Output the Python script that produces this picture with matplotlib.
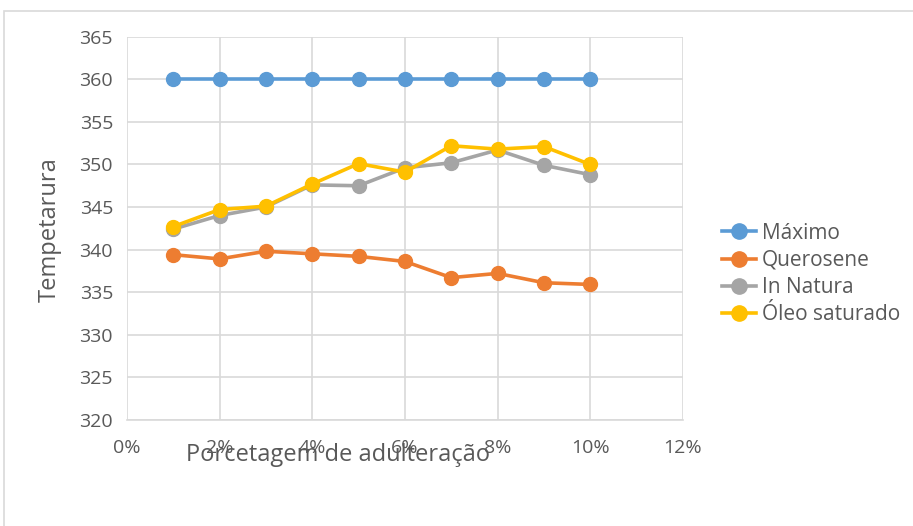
import matplotlib.pyplot as plt
from matplotlib.patches import Rectangle

# ---------------- data ----------------
adulteracao = [0.01, 0.02, 0.03, 0.04, 0.05, 0.06, 0.07, 0.08, 0.09, 0.10]
maximo = [360, 360, 360, 360, 360, 360, 360, 360, 360, 360]
querosene = [339.4, 338.9, 339.8, 339.5, 339.2, 338.6, 336.7, 337.2, 336.1, 335.9]
in_natura = [342.4, 344.0, 345.0, 347.6, 347.5, 349.6, 350.2, 351.7, 349.9, 348.8]
oleo_saturado = [342.7, 344.7, 345.1, 347.7, 350.1, 349.1, 352.2, 351.8, 352.1, 350.0]

series = [
    ('Máximo', maximo, '#5B9BD5'),
    ('Querosene', querosene, '#ED7D31'),
    ('In Natura', in_natura, '#A5A5A5'),
    ('Óleo saturado', oleo_saturado, '#FFC000'),
]

xticks = [0, 0.02, 0.04, 0.06, 0.08, 0.10, 0.12]
yticks = [320, 325, 330, 335, 340, 345, 350, 355, 360, 365]

plt.rcParams['font.family'] = ['Open Sans', 'DejaVu Sans']
txt = '#595959'

fig = plt.figure(figsize=(9.13, 5.26), dpi=100)
ax = fig.add_axes([0.139, 0.202, 0.609, 0.728])

for name, vals, col in series:
    ax.plot(adulteracao, vals, color=col, lw=2.6, marker='o', ms=10, label=name)

ax.set_xlim(0, 0.12)
ax.set_ylim(320, 365)
ax.set_xticks(xticks)
ax.set_xticklabels(['%d%%' % round(v * 100) for v in xticks])
ax.set_yticks(yticks)
ax.grid(True, color='#D9D9D9', lw=1.2)
ax.set_axisbelow(True)
for s in ax.spines.values():
    s.set_visible(False)
ax.spines['bottom'].set_visible(True)
ax.spines['bottom'].set_color('#D9D9D9')
ax.spines['bottom'].set_linewidth(1.2)
ax.tick_params(length=0, labelsize=14, colors=txt)
ax.tick_params(axis='x', pad=14)
ax.tick_params(axis='y', pad=10)

# axis titles (Excel-style placement, overlapping the x ticks like the original)
fig.text(0.055, 0.563, 'Tempetarura', fontsize=17, color=txt, rotation=90, ha='center', va='center')
fig.text(0.37, 0.135, 'Porcetagem de adulteração', fontsize=17, color=txt, ha='center', va='center')

leg = ax.legend(loc='center left', bbox_to_anchor=(0.791, 0.479), bbox_transform=fig.transFigure,
                frameon=False, fontsize=15, handlelength=1.6, labelspacing=0.3,
                handletextpad=0.3, borderpad=0, borderaxespad=0, markerscale=1.1)
for t in leg.get_texts():
    t.set_color(txt)

# outer chart border
fig.patches.append(Rectangle((0.004, -0.01), 1.1, 0.99, transform=fig.transFigure,
                             fill=False, edgecolor='#D9D9D9', lw=1.2))

fig.savefig('out.png', dpi=100)
